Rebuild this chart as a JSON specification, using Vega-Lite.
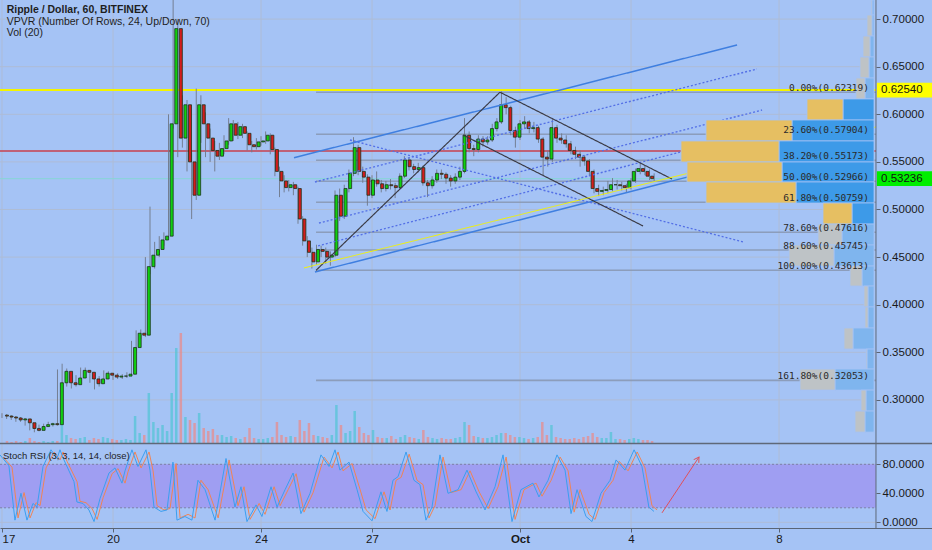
{
"$schema": "https://vega.github.io/schema/vega-lite/v6.json",
"autosize": {"type": "none"},
"width": 932, "height": 528,
"padding": {"left": 0, "top": 0, "right": 0, "bottom": 22},
"background": "#a5c3f5",
"config": {"view": {"stroke": null}, "text": {"font": "Liberation Sans"}},
"resolve": {"scale": {"x": "independent", "y": "independent", "color": "independent", "strokeDash": "independent", "strokeWidth": "independent"}},
"datasets": {
"candles": [
{"t":0,"o":0.284,"h":0.286,"l":0.281,"c":0.283,"v":2},{"t":3,"o":0.283,"h":0.285,"l":0.280,"c":0.282,"v":1},{"t":6,"o":0.282,"h":0.284,"l":0.279,"c":0.281,"v":2},{"t":9,"o":0.281,"h":0.283,"l":0.277,"c":0.279,"v":1},{"t":12,"o":0.279,"h":0.282,"l":0.277,"c":0.280,"v":2},{"t":15,"o":0.280,"h":0.281,"l":0.273,"c":0.276,"v":5},{"t":18,"o":0.276,"h":0.277,"l":0.268,"c":0.270,"v":2},{"t":21,"o":0.270,"h":0.272,"l":0.266,"c":0.268,"v":1},{"t":24,"o":0.268,"h":0.274,"l":0.267,"c":0.272,"v":2},{"t":27,"o":0.272,"h":0.275,"l":0.270,"c":0.274,"v":1},{"t":30,"o":0.274,"h":0.277,"l":0.272,"c":0.275,"v":2},{"t":33,"o":0.275,"h":0.276,"l":0.272,"c":0.274,"v":2},
{"t":36,"o":0.274,"h":0.332,"l":0.273,"c":0.318,"v":20},{"t":39,"o":0.318,"h":0.338,"l":0.315,"c":0.330,"v":8},{"t":42,"o":0.330,"h":0.333,"l":0.314,"c":0.318,"v":5},{"t":45,"o":0.318,"h":0.322,"l":0.312,"c":0.316,"v":4},{"t":48,"o":0.316,"h":0.326,"l":0.314,"c":0.323,"v":5},{"t":51,"o":0.323,"h":0.334,"l":0.321,"c":0.331,"v":6},{"t":54,"o":0.331,"h":0.334,"l":0.326,"c":0.329,"v":3},{"t":57,"o":0.329,"h":0.331,"l":0.318,"c":0.322,"v":5},{"t":60,"o":0.322,"h":0.324,"l":0.311,"c":0.317,"v":4},{"t":63,"o":0.317,"h":0.325,"l":0.314,"c":0.322,"v":6},{"t":66,"o":0.322,"h":0.331,"l":0.320,"c":0.328,"v":5},{"t":69,"o":0.328,"h":0.330,"l":0.323,"c":0.326,"v":4},{"t":72,"o":0.326,"h":0.328,"l":0.321,"c":0.324,"v":3},{"t":75,"o":0.324,"h":0.328,"l":0.322,"c":0.325,"v":3},{"t":78,"o":0.325,"h":0.327,"l":0.322,"c":0.325,"v":4},{"t":81,"o":0.325,"h":0.329,"l":0.323,"c":0.327,"v":3},
{"t":84,"o":0.327,"h":0.362,"l":0.326,"c":0.355,"v":27},{"t":87,"o":0.355,"h":0.373,"l":0.352,"c":0.370,"v":10},{"t":90,"o":0.370,"h":0.374,"l":0.364,"c":0.368,"v":8},{"t":93,"o":0.368,"h":0.450,"l":0.366,"c":0.440,"v":50},{"t":96,"o":0.440,"h":0.503,"l":0.432,"c":0.452,"v":21},{"t":99,"o":0.452,"h":0.466,"l":0.438,"c":0.458,"v":15},{"t":102,"o":0.458,"h":0.472,"l":0.450,"c":0.468,"v":18},{"t":105,"o":0.468,"h":0.476,"l":0.462,"c":0.472,"v":12},{"t":108,"o":0.472,"h":0.600,"l":0.470,"c":0.590,"v":50},{"t":111,"o":0.590,"h":0.724,"l":0.585,"c":0.690,"v":95},{"t":114,"o":0.690,"h":0.700,"l":0.555,"c":0.575,"v":110},{"t":117,"o":0.575,"h":0.620,"l":0.565,"c":0.610,"v":26},
{"t":120,"o":0.610,"h":0.615,"l":0.540,"c":0.550,"v":23},{"t":123,"o":0.550,"h":0.560,"l":0.490,"c":0.515,"v":20},{"t":126,"o":0.515,"h":0.627,"l":0.510,"c":0.610,"v":30},{"t":129,"o":0.610,"h":0.620,"l":0.570,"c":0.590,"v":15},{"t":132,"o":0.590,"h":0.602,"l":0.555,"c":0.575,"v":12},{"t":135,"o":0.575,"h":0.585,"l":0.550,"c":0.562,"v":14},{"t":138,"o":0.562,"h":0.572,"l":0.540,"c":0.556,"v":8},{"t":141,"o":0.556,"h":0.570,"l":0.552,"c":0.564,"v":8},{"t":144,"o":0.564,"h":0.578,"l":0.558,"c":0.572,"v":6},{"t":147,"o":0.572,"h":0.596,"l":0.568,"c":0.590,"v":7},{"t":150,"o":0.590,"h":0.594,"l":0.572,"c":0.578,"v":5},{"t":153,"o":0.578,"h":0.592,"l":0.574,"c":0.587,"v":4},
{"t":156,"o":0.587,"h":0.590,"l":0.575,"c":0.580,"v":6},{"t":159,"o":0.580,"h":0.582,"l":0.562,"c":0.568,"v":15},{"t":162,"o":0.568,"h":0.572,"l":0.560,"c":0.566,"v":5},{"t":165,"o":0.566,"h":0.575,"l":0.563,"c":0.571,"v":4},{"t":168,"o":0.571,"h":0.577,"l":0.567,"c":0.572,"v":4},{"t":171,"o":0.572,"h":0.582,"l":0.569,"c":0.578,"v":5},{"t":174,"o":0.578,"h":0.580,"l":0.558,"c":0.563,"v":6},{"t":177,"o":0.563,"h":0.565,"l":0.535,"c":0.540,"v":21},{"t":180,"o":0.540,"h":0.545,"l":0.513,"c":0.530,"v":8},{"t":183,"o":0.530,"h":0.536,"l":0.518,"c":0.523,"v":6},{"t":186,"o":0.523,"h":0.531,"l":0.519,"c":0.526,"v":7},{"t":189,"o":0.526,"h":0.529,"l":0.515,"c":0.522,"v":6},
{"t":192,"o":0.522,"h":0.524,"l":0.485,"c":0.490,"v":23},{"t":195,"o":0.490,"h":0.493,"l":0.462,"c":0.467,"v":12},{"t":198,"o":0.467,"h":0.472,"l":0.450,"c":0.455,"v":20},{"t":201,"o":0.455,"h":0.460,"l":0.438,"c":0.445,"v":8},{"t":204,"o":0.445,"h":0.463,"l":0.442,"c":0.458,"v":7},{"t":207,"o":0.458,"h":0.462,"l":0.450,"c":0.456,"v":6},{"t":210,"o":0.456,"h":0.460,"l":0.443,"c":0.450,"v":5},{"t":213,"o":0.450,"h":0.456,"l":0.441,"c":0.452,"v":8},{"t":216,"o":0.452,"h":0.520,"l":0.450,"c":0.515,"v":38},{"t":219,"o":0.515,"h":0.522,"l":0.488,"c":0.493,"v":18},{"t":222,"o":0.493,"h":0.526,"l":0.490,"c":0.522,"v":10},{"t":225,"o":0.522,"h":0.542,"l":0.518,"c":0.538,"v":12},
{"t":228,"o":0.538,"h":0.576,"l":0.535,"c":0.565,"v":32},{"t":231,"o":0.565,"h":0.568,"l":0.536,"c":0.540,"v":16},{"t":234,"o":0.540,"h":0.545,"l":0.528,"c":0.534,"v":10},{"t":237,"o":0.534,"h":0.537,"l":0.504,"c":0.515,"v":8},{"t":240,"o":0.515,"h":0.536,"l":0.512,"c":0.531,"v":13},{"t":243,"o":0.531,"h":0.540,"l":0.524,"c":0.527,"v":6},{"t":246,"o":0.527,"h":0.531,"l":0.518,"c":0.522,"v":5},{"t":249,"o":0.522,"h":0.530,"l":0.519,"c":0.526,"v":5},{"t":252,"o":0.526,"h":0.532,"l":0.521,"c":0.525,"v":7},{"t":255,"o":0.525,"h":0.528,"l":0.512,"c":0.523,"v":4},{"t":258,"o":0.523,"h":0.538,"l":0.521,"c":0.535,"v":6},{"t":261,"o":0.535,"h":0.556,"l":0.533,"c":0.552,"v":8},
{"t":264,"o":0.552,"h":0.555,"l":0.541,"c":0.545,"v":6},{"t":267,"o":0.545,"h":0.548,"l":0.538,"c":0.542,"v":5},{"t":270,"o":0.542,"h":0.549,"l":0.539,"c":0.544,"v":4},{"t":273,"o":0.544,"h":0.546,"l":0.525,"c":0.528,"v":13},{"t":276,"o":0.528,"h":0.531,"l":0.513,"c":0.525,"v":6},{"t":279,"o":0.525,"h":0.535,"l":0.522,"c":0.531,"v":5},{"t":282,"o":0.531,"h":0.542,"l":0.528,"c":0.538,"v":4},{"t":285,"o":0.538,"h":0.542,"l":0.532,"c":0.537,"v":5},{"t":288,"o":0.537,"h":0.539,"l":0.527,"c":0.533,"v":4},{"t":291,"o":0.533,"h":0.536,"l":0.524,"c":0.530,"v":4},{"t":294,"o":0.530,"h":0.538,"l":0.527,"c":0.534,"v":5},{"t":297,"o":0.534,"h":0.545,"l":0.531,"c":0.540,"v":6},
{"t":300,"o":0.540,"h":0.596,"l":0.538,"c":0.578,"v":21},{"t":303,"o":0.578,"h":0.582,"l":0.560,"c":0.564,"v":18},{"t":306,"o":0.564,"h":0.568,"l":0.556,"c":0.563,"v":7},{"t":309,"o":0.563,"h":0.578,"l":0.560,"c":0.574,"v":6},{"t":312,"o":0.574,"h":0.577,"l":0.566,"c":0.571,"v":5},{"t":315,"o":0.571,"h":0.577,"l":0.568,"c":0.573,"v":5},{"t":318,"o":0.573,"h":0.590,"l":0.571,"c":0.585,"v":6},{"t":321,"o":0.585,"h":0.596,"l":0.582,"c":0.592,"v":8},{"t":324,"o":0.592,"h":0.624,"l":0.590,"c":0.610,"v":10},{"t":327,"o":0.610,"h":0.618,"l":0.600,"c":0.607,"v":10},{"t":330,"o":0.607,"h":0.609,"l":0.578,"c":0.583,"v":8},{"t":333,"o":0.583,"h":0.587,"l":0.565,"c":0.576,"v":6},
{"t":336,"o":0.576,"h":0.594,"l":0.573,"c":0.590,"v":6},{"t":339,"o":0.590,"h":0.598,"l":0.585,"c":0.592,"v":5},{"t":342,"o":0.592,"h":0.594,"l":0.580,"c":0.585,"v":4},{"t":345,"o":0.585,"h":0.592,"l":0.581,"c":0.586,"v":5},{"t":348,"o":0.586,"h":0.588,"l":0.570,"c":0.574,"v":6},{"t":351,"o":0.574,"h":0.576,"l":0.535,"c":0.555,"v":21},{"t":354,"o":0.555,"h":0.562,"l":0.545,"c":0.553,"v":8},{"t":357,"o":0.553,"h":0.595,"l":0.550,"c":0.586,"v":18},{"t":360,"o":0.586,"h":0.589,"l":0.570,"c":0.575,"v":6},{"t":363,"o":0.575,"h":0.580,"l":0.569,"c":0.573,"v":5},{"t":366,"o":0.573,"h":0.578,"l":0.565,"c":0.569,"v":4},{"t":369,"o":0.569,"h":0.572,"l":0.558,"c":0.562,"v":4},
{"t":372,"o":0.562,"h":0.566,"l":0.553,"c":0.558,"v":5},{"t":375,"o":0.558,"h":0.562,"l":0.545,"c":0.555,"v":4},{"t":378,"o":0.555,"h":0.557,"l":0.546,"c":0.551,"v":6},{"t":381,"o":0.551,"h":0.553,"l":0.535,"c":0.540,"v":7},{"t":384,"o":0.540,"h":0.542,"l":0.517,"c":0.522,"v":10},{"t":387,"o":0.522,"h":0.526,"l":0.514,"c":0.519,"v":6},{"t":390,"o":0.519,"h":0.524,"l":0.515,"c":0.520,"v":5},{"t":393,"o":0.520,"h":0.530,"l":0.517,"c":0.521,"v":5},{"t":396,"o":0.521,"h":0.533,"l":0.519,"c":0.526,"v":11},{"t":399,"o":0.526,"h":0.531,"l":0.521,"c":0.526,"v":4},{"t":402,"o":0.526,"h":0.529,"l":0.520,"c":0.525,"v":4},{"t":405,"o":0.525,"h":0.527,"l":0.518,"c":0.523,"v":3},
{"t":408,"o":0.523,"h":0.533,"l":0.521,"c":0.530,"v":4},{"t":411,"o":0.530,"h":0.543,"l":0.528,"c":0.540,"v":5},{"t":414,"o":0.540,"h":0.548,"l":0.537,"c":0.543,"v":4},{"t":417,"o":0.543,"h":0.546,"l":0.536,"c":0.540,"v":3},{"t":420,"o":0.540,"h":0.542,"l":0.531,"c":0.535,"v":3},{"t":423,"o":0.535,"h":0.538,"l":0.530,"c":0.5324,"v":2}
],
"stk": [
{"t":-1.3,"v":93},{"t":4.5,"v":78},{"t":8.4,"v":3},{"t":12.3,"v":40},{"t":16.2,"v":3},{"t":20.1,"v":26},{"t":22.7,"v":21},{"t":26.6,"v":77},{"t":31.8,"v":100},{"t":35.7,"v":88},{"t":37.6,"v":100},{"t":40.2,"v":86},{"t":46.7,"v":56},{"t":48.6,"v":28},{"t":52.5,"v":26},{"t":56.4,"v":17},{"t":59.7,"v":1},{"t":63.6,"v":33},{"t":69.4,"v":68},{"t":73.3,"v":75},{"t":77.8,"v":54},{"t":79.8,"v":71},{"t":84.3,"v":100},{"t":88.2,"v":77},{"t":93.4,"v":100},{"t":96,"v":72},{"t":98.6,"v":21},{"t":103.1,"v":15},{"t":107,"v":17},{"t":110.9,"v":83},{"t":113.5,"v":3},{"t":118.7,"v":8},{"t":123.2,"v":3},{"t":127.1,"v":58},{"t":131.7,"v":45},{"t":138.2,"v":3},{"t":145.3,"v":88},{"t":151.1,"v":21},{"t":155,"v":49},{"t":158.9,"v":1},{"t":164.8,"v":24},{"t":168.6,"v":8},{"t":174.5,"v":49},{"t":178.4,"v":21},{"t":183.6,"v":45},{"t":188.8,"v":68},{"t":193.9,"v":12},{"t":199.8,"v":40},{"t":206.9,"v":93},{"t":212.1,"v":77},{"t":216,"v":100},{"t":219.2,"v":72},{"t":225.1,"v":83},{"t":230.3,"v":45},{"t":234.2,"v":15},{"t":240,"v":2},{"t":245.8,"v":42},{"t":249.7,"v":15},{"t":253.6,"v":58},{"t":256.9,"v":63},{"t":262.1,"v":97},{"t":267.2,"v":58},{"t":271.1,"v":52},{"t":275,"v":3},{"t":278.9,"v":21},{"t":284.1,"v":93},{"t":289.3,"v":40},{"t":295.8,"v":45},{"t":301.6,"v":72},{"t":307.5,"v":42},{"t":313.3,"v":17},{"t":319.8,"v":49},{"t":325,"v":93},{"t":330.8,"v":1},{"t":336.6,"v":45},{"t":344.4,"v":54},{"t":348.3,"v":35},{"t":354.2,"v":58},{"t":360,"v":93},{"t":365.2,"v":72},{"t":369.1,"v":12},{"t":373,"v":45},{"t":378.8,"v":8},{"t":382.7,"v":1},{"t":388.5,"v":40},{"t":394.4,"v":58},{"t":398.3,"v":86},{"t":404.1,"v":72},{"t":410,"v":100},{"t":415.1,"v":77},{"t":419.6,"v":21},{"t":422.9,"v":15}
],
"std": [
{"t":0.7,"v":90},{"t":6.5,"v":76},{"t":10.4,"v":6},{"t":14.3,"v":41},{"t":18.2,"v":6},{"t":22.1,"v":27},{"t":24.7,"v":23},{"t":28.6,"v":75},{"t":33.8,"v":97},{"t":37.7,"v":86},{"t":39.6,"v":97},{"t":42.2,"v":84},{"t":48.7,"v":56},{"t":50.6,"v":29},{"t":54.5,"v":27},{"t":58.4,"v":19},{"t":61.7,"v":4},{"t":65.6,"v":34},{"t":71.4,"v":67},{"t":75.3,"v":74},{"t":79.8,"v":54},{"t":81.8,"v":70},{"t":86.3,"v":97},{"t":90.2,"v":75},{"t":95.4,"v":97},{"t":98,"v":71},{"t":100.6,"v":23},{"t":105.1,"v":17},{"t":109,"v":19},{"t":112.9,"v":81},{"t":115.5,"v":6},{"t":120.7,"v":11},{"t":125.2,"v":6},{"t":129.1,"v":58},{"t":133.7,"v":45},{"t":140.2,"v":6},{"t":147.3,"v":86},{"t":153.1,"v":23},{"t":157,"v":49},{"t":160.9,"v":4},{"t":166.8,"v":26},{"t":170.6,"v":11},{"t":176.5,"v":49},{"t":180.4,"v":23},{"t":185.6,"v":45},{"t":190.8,"v":67},{"t":195.9,"v":14},{"t":201.8,"v":41},{"t":208.9,"v":90},{"t":214.1,"v":75},{"t":218,"v":97},{"t":221.2,"v":71},{"t":227.1,"v":81},{"t":232.3,"v":45},{"t":236.2,"v":17},{"t":242,"v":5},{"t":247.8,"v":42},{"t":251.7,"v":17},{"t":255.6,"v":58},{"t":258.9,"v":62},{"t":264.1,"v":94},{"t":269.2,"v":58},{"t":273.1,"v":52},{"t":277,"v":6},{"t":280.9,"v":23},{"t":286.1,"v":90},{"t":291.3,"v":41},{"t":297.8,"v":45},{"t":303.6,"v":71},{"t":309.5,"v":42},{"t":315.3,"v":19},{"t":321.8,"v":49},{"t":327,"v":90},{"t":332.8,"v":4},{"t":338.6,"v":45},{"t":346.4,"v":54},{"t":350.3,"v":36},{"t":356.2,"v":58},{"t":362,"v":90},{"t":367.2,"v":71},{"t":371.1,"v":14},{"t":375,"v":45},{"t":380.8,"v":11},{"t":384.7,"v":4},{"t":390.5,"v":41},{"t":396.4,"v":58},{"t":400.3,"v":84},{"t":406.1,"v":71},{"t":412,"v":97},{"t":417.1,"v":75},{"t":421.6,"v":23},{"t":424.9,"v":17}
],
"vp": [
{"lo":0.7043,"hi":0.7201,"a":1,"b":3,"k":"up"},{"lo":0.7043,"hi":0.7201,"a":3,"b":4,"k":"dn"},
{"lo":0.6822,"hi":0.7043,"a":1,"b":3,"k":"up"},{"lo":0.6822,"hi":0.7043,"a":3,"b":8,"k":"dn"},
{"lo":0.6602,"hi":0.6822,"a":1,"b":5,"k":"up"},{"lo":0.6602,"hi":0.6822,"a":5,"b":12,"k":"dn"},
{"lo":0.6381,"hi":0.6602,"a":1,"b":6,"k":"up"},{"lo":0.6381,"hi":0.6602,"a":6,"b":15,"k":"dn"},
{"lo":0.6161,"hi":0.6381,"a":1,"b":10,"k":"up"},{"lo":0.6161,"hi":0.6381,"a":10,"b":19,"k":"dn"},
{"lo":0.594,"hi":0.6161,"a":1,"b":32,"k":"upv"},{"lo":0.594,"hi":0.6161,"a":32,"b":68,"k":"dnv"},
{"lo":0.572,"hi":0.594,"a":1,"b":83,"k":"upv"},{"lo":0.572,"hi":0.594,"a":83,"b":169,"k":"dnv"},
{"lo":0.5499,"hi":0.572,"a":1,"b":96,"k":"upv"},{"lo":0.5499,"hi":0.572,"a":96,"b":194,"k":"dnv"},
{"lo":0.5289,"hi":0.5499,"a":1,"b":93,"k":"upv"},{"lo":0.5289,"hi":0.5499,"a":93,"b":188,"k":"dnv"},
{"lo":0.5068,"hi":0.5289,"a":1,"b":79,"k":"upv"},{"lo":0.5068,"hi":0.5289,"a":79,"b":169,"k":"dnv"},
{"lo":0.4847,"hi":0.5068,"a":1,"b":23,"k":"upv"},{"lo":0.4847,"hi":0.5068,"a":23,"b":52,"k":"dnv"},
{"lo":0.4627,"hi":0.4847,"a":1,"b":33,"k":"up"},{"lo":0.4627,"hi":0.4847,"a":33,"b":57,"k":"dn"},
{"lo":0.4406,"hi":0.4627,"a":1,"b":41,"k":"up"},{"lo":0.4406,"hi":0.4627,"a":41,"b":86,"k":"dn"},
{"lo":0.4196,"hi":0.4406,"a":1,"b":13,"k":"up"},{"lo":0.4196,"hi":0.4406,"a":13,"b":25,"k":"dn"},
{"lo":0.3976,"hi":0.4196,"a":1,"b":7,"k":"up"},{"lo":0.3976,"hi":0.4196,"a":7,"b":11,"k":"dn"},
{"lo":0.3755,"hi":0.3976,"a":1,"b":7,"k":"up"},{"lo":0.3755,"hi":0.3976,"a":7,"b":10,"k":"dn"},
{"lo":0.3534,"hi":0.3755,"a":1,"b":22,"k":"up"},{"lo":0.3534,"hi":0.3755,"a":22,"b":31,"k":"dn"},
{"lo":0.3324,"hi":0.3534,"a":1,"b":8,"k":"up"},{"lo":0.3324,"hi":0.3534,"a":8,"b":9,"k":"dn"},
{"lo":0.3103,"hi":0.3324,"a":1,"b":40,"k":"up"},{"lo":0.3103,"hi":0.3324,"a":40,"b":75,"k":"dn"},
{"lo":0.2883,"hi":0.3103,"a":1,"b":9,"k":"up"},{"lo":0.2883,"hi":0.3103,"a":9,"b":14,"k":"dn"},
{"lo":0.2662,"hi":0.2883,"a":1,"b":10,"k":"up"},{"lo":0.2662,"hi":0.2883,"a":10,"b":20,"k":"dn"}
],
"fib": [
{"p":0.62319,"label":"0.00%(0.62319)"},{"p":0.57904,"label":"23.60%(0.57904)"},{"p":0.55173,"label":"38.20%(0.55173)"},{"p":0.52966,"label":"50.00%(0.52966)"},{"p":0.50759,"label":"61.80%(0.50759)"},{"p":0.47616,"label":"78.60%(0.47616)"},{"p":0.45745,"label":"88.60%(0.45745)"},{"p":0.43613,"label":"100.00%(0.43613)"},{"p":0.32053,"label":"161.80%(0.32053)"}
],
"tl": [
{"id":"ch1","g":"blue","t":189.4,"p":0.5544},{"id":"ch1","g":"blue","t":476.8,"p":0.6728},
{"id":"ch2","g":"blue","t":203.0,"p":0.4343},{"id":"ch2","g":"blue","t":490.4,"p":0.5530},
{"id":"d1","g":"dot","t":203.0,"p":0.5289},{"id":"d1","g":"dot","t":489.7,"p":0.6476},
{"id":"d2","g":"dot","t":205.6,"p":0.4858},{"id":"d2","g":"dot","t":493.0,"p":0.6045},
{"id":"d3","g":"dot","t":205.0,"p":0.4617},{"id":"d3","g":"dot","t":490.4,"p":0.5814},
{"id":"d4","g":"dot","t":225.7,"p":0.5730},{"id":"d4","g":"dot","t":480.6,"p":0.4659},
{"id":"k1","g":"black","t":203.7,"p":0.43613},{"id":"k1","g":"black","t":323.0,"p":0.62319},
{"id":"k2","g":"black","t":323.0,"p":0.62319},{"id":"k2","g":"black","t":434.6,"p":0.532},
{"id":"k3","g":"black","t":299.0,"p":0.5783},{"id":"k3","g":"black","t":415.8,"p":0.4827},
{"id":"y1","g":"yellow","t":195.9,"p":0.4386},{"id":"y1","g":"yellow","t":566.9,"p":0.5867}
],
"hl": [{"p":0.5614,"k":"piv"},{"p":0.53236,"k":"last"},{"p":0.6254,"k":"res"}],
"tags": [{"lo":0.6177,"hi":0.6331,"p":0.6254,"label":"0.62540","k":"res"},{"lo":0.52466,"hi":0.54006,"p":0.53236,"label":"0.53236","k":"last"}],
"pg": [{"p":0.30},{"p":0.35},{"p":0.40},{"p":0.45},{"p":0.50},{"p":0.55},{"p":0.60},{"p":0.65},{"p":0.70}],
"vg": [{"t":0},{"t":72},{"t":168},{"t":240},{"t":336},{"t":408},{"t":504}]
},
"layer": [
{"data":{"name":"vg"},"mark":{"type":"rule","color":"#aebcd6","strokeWidth":1},
 "encoding":{"x":{"field":"t","type":"quantitative","scale":{"domain":[-1.297,603.24],"nice":false,"zero":false},
  "axis":{"orient":"bottom","values":[0,72,168,240,336,408,504],"labelExpr":"datum.value == 0 ? '17' : datum.value == 72 ? '20' : datum.value == 168 ? '24' : datum.value == 240 ? '27' : datum.value == 336 ? 'Oct' : datum.value == 408 ? '4' : '8'","grid":false,"domain":true,"domainColor":"#5a6474","ticks":true,"tickSize":4,"tickColor":"#5a6474","labelFont":"Liberation Sans","labelFontSize":11.5,"labelColor":"#1a1a1a","labelPadding":1,"labelFlush":false,"labelOverlap":false,"title":null,"zindex":1,"labelAlign":{"condition":{"test":"datum.value == 0","value":"left"},"value":"center"},"labelFontWeight":{"condition":{"test":"datum.value == 336","value":"bold"},"value":"normal"}}}}},
{"data":{"name":"pg"},"mark":{"type":"rule","color":"#aebcd6","strokeWidth":1},
 "encoding":{"y":{"field":"p","type":"quantitative","scale":{"domain":[0.25473,0.72006],"range":[443,0],"nice":false,"zero":false},
   "axis":{"orient":"right","offset":-56,"values":[0.3,0.35,0.4,0.45,0.5,0.55,0.6,0.65,0.7],"format":".5f","grid":false,"domain":false,"ticks":true,"tickSize":4,"tickColor":"#5a6474","labelFont":"Liberation Sans","labelFontSize":11.5,"labelColor":"#1a1a1a","labelPadding":2,"labelFlush":false,"labelOverlap":false,"title":null,"zindex":1}},
  "x":{"datum":-1.297,"type":"quantitative","scale":{"domain":[-1.297,603.24],"nice":false,"zero":false},"axis":null},"x2":{"datum":566.9}}},
{"data":{"values":[{"v":0},{"v":40},{"v":80}]},"mark":{"type":"rule","color":"#aebcd6","strokeWidth":1},
 "encoding":{"y":{"field":"v","type":"quantitative","scale":{"domain":[0,100],"range":[522.3,449.8],"nice":false,"zero":false},
   "axis":{"orient":"right","offset":-56,"values":[0,40,80],"format":".4f","grid":false,"domain":false,"ticks":true,"tickSize":4,"tickColor":"#5a6474","labelFont":"Liberation Sans","labelFontSize":11.5,"labelColor":"#1a1a1a","labelPadding":2,"labelFlush":false,"labelOverlap":false,"title":null,"zindex":1}},
  "x":{"datum":-1.297,"type":"quantitative","scale":{"domain":[-1.297,603.24],"nice":false,"zero":false},"axis":null},"x2":{"datum":566.9}}},
{"data":{"values":[{"lo":20,"hi":80}]},"mark":{"type":"rect","color":"#9f9ef2"},
 "encoding":{"y":{"field":"lo","type":"quantitative","scale":{"domain":[0,100],"range":[522.3,449.8],"nice":false,"zero":false},"axis":null},"y2":{"field":"hi"},
  "x":{"datum":-1.297,"type":"quantitative","scale":{"domain":[-1.297,603.24],"nice":false,"zero":false},"axis":null},"x2":{"datum":566.9}}},
{"data":{"values":[{"v":20},{"v":80}]},"mark":{"type":"rule","color":"#7c80a8","strokeDash":[2,2],"strokeWidth":1},
 "encoding":{"y":{"field":"v","type":"quantitative","scale":{"domain":[0,100],"range":[522.3,449.8],"nice":false,"zero":false},"axis":null},
  "x":{"datum":-1.297,"type":"quantitative","scale":{"domain":[-1.297,603.24],"nice":false,"zero":false},"axis":null},"x2":{"datum":566.9}}},
{"data":{"name":"candles"},"mark":{"type":"bar","width":2.5,"opacity":0.75},
 "encoding":{"x":{"field":"t","type":"quantitative","scale":{"domain":[-1.297,603.24],"nice":false,"zero":false},"axis":null},
  "y":{"field":"v","type":"quantitative","scale":{"domain":[0,443],"range":[443,0],"nice":false,"zero":false},"axis":null},
  "color":{"condition":{"test":"datum.c >= datum.o","value":"#56c4d6"},"value":"#e88c8c"}}},
{"data":{"name":"fib"},"mark":{"type":"rule","color":"#8796b0","strokeWidth":1.6,"opacity":0.85},
 "encoding":{"y":{"field":"p","type":"quantitative","scale":{"domain":[0.25473,0.72006],"range":[443,0],"nice":false,"zero":false},"axis":null},
  "x":{"datum":203.7,"type":"quantitative","scale":{"domain":[-1.297,603.24],"nice":false,"zero":false},"axis":null},"x2":{"datum":566.9}}},
{"data":{"name":"hl"},"mark":{"type":"rule"},
 "encoding":{"y":{"field":"p","type":"quantitative","scale":{"domain":[0.25473,0.72006],"range":[443,0],"nice":false,"zero":false},"axis":null},
  "x":{"datum":-1.297,"type":"quantitative","scale":{"domain":[-1.297,603.24],"nice":false,"zero":false},"axis":null},"x2":{"datum":566.9},
  "color":{"field":"k","type":"nominal","scale":{"domain":["res","piv","last"],"range":["#f4f400","#c8404e","#86d6d6"]},"legend":null},
  "strokeWidth":{"field":"k","type":"nominal","scale":{"domain":["res","piv","last"],"range":[2,1,1]},"legend":null}}},
{"data":{"name":"candles"},"mark":{"type":"rule","color":"#6f7888","strokeWidth":1,"opacity":0.9},
 "encoding":{"x":{"field":"t","type":"quantitative","scale":{"domain":[-1.297,603.24],"nice":false,"zero":false},"axis":null},
  "y":{"field":"l","type":"quantitative","scale":{"domain":[0.25473,0.72006],"range":[443,0],"nice":false,"zero":false},"axis":null},"y2":{"field":"h"}}},
{"data":{"name":"candles"},"mark":{"type":"bar","width":3,"stroke":"#1c331c","strokeWidth":0.8},
 "encoding":{"x":{"field":"t","type":"quantitative","scale":{"domain":[-1.297,603.24],"nice":false,"zero":false},"axis":null},
  "y":{"field":"o","type":"quantitative","scale":{"domain":[0.25473,0.72006],"range":[443,0],"nice":false,"zero":false},"axis":null},"y2":{"field":"c"},
  "color":{"condition":{"test":"datum.c >= datum.o","value":"#10d010"},"value":"#d41c1c"}}},
{"data":{"name":"tl"},"mark":{"type":"line","interpolate":"linear"},
 "encoding":{"x":{"field":"t","type":"quantitative","scale":{"domain":[-1.297,603.24],"nice":false,"zero":false},"axis":null},
  "y":{"field":"p","type":"quantitative","scale":{"domain":[0.25473,0.72006],"range":[443,0],"nice":false,"zero":false},"axis":null},
  "detail":{"field":"id"},
  "color":{"field":"g","type":"nominal","scale":{"domain":["blue","dot","black","yellow"],"range":["#3f7fe0","#5470e6","#3a3a44","#f4f400"]},"legend":null},
  "strokeDash":{"field":"g","type":"nominal","scale":{"domain":["blue","dot","black","yellow"],"range":[[1,0],[2,2],[1,0],[1,0]]},"legend":null},
  "strokeWidth":{"field":"g","type":"nominal","scale":{"domain":["blue","dot","black","yellow"],"range":[1.5,1,1,2.2]},"legend":null}}},
{"data":{"name":"vp"},"mark":{"type":"rect","stroke":"#a5c3f5","strokeWidth":0.8},
 "encoding":{"x":{"field":"a","type":"quantitative","scale":{"domain":[-57,875],"reverse":true,"nice":false,"zero":false},"axis":null},"x2":{"field":"b"},
  "y":{"field":"lo","type":"quantitative","scale":{"domain":[0.25473,0.72006],"range":[443,0],"nice":false,"zero":false},"axis":null},"y2":{"field":"hi"},
  "color":{"field":"k","type":"nominal","scale":{"domain":["up","dn","upv","dnv"],"range":["#7fb5ee","#bec3c6","#3d9ae8","#e6bf62"]},"legend":null}}},
{"data":{"name":"fib"},"mark":{"type":"text","align":"right","baseline":"alphabetic","dy":-1.5,"font":"DejaVu Sans Mono","fontSize":9.5,"color":"#2a2a2a"},
 "encoding":{"y":{"field":"p","type":"quantitative","scale":{"domain":[0.25473,0.72006],"range":[443,0],"nice":false,"zero":false},"axis":null},
  "x":{"datum":562.4,"type":"quantitative","scale":{"domain":[-1.297,603.24],"nice":false,"zero":false},"axis":null},"text":{"field":"label"}}},
{"data":{"name":"std"},"mark":{"type":"line","color":"#ef8457","strokeWidth":1},
 "encoding":{"x":{"field":"t","type":"quantitative","scale":{"domain":[-1.297,603.24],"nice":false,"zero":false},"axis":null},
  "y":{"field":"v","type":"quantitative","scale":{"domain":[0,100],"range":[522.3,449.8],"nice":false,"zero":false},"axis":null}}},
{"data":{"name":"stk"},"mark":{"type":"line","color":"#3b9ff0","strokeWidth":1},
 "encoding":{"x":{"field":"t","type":"quantitative","scale":{"domain":[-1.297,603.24],"nice":false,"zero":false},"axis":null},
  "y":{"field":"v","type":"quantitative","scale":{"domain":[0,100],"range":[522.3,449.8],"nice":false,"zero":false},"axis":null}}},
{"data":{"values":[{"t":428.1,"v":13},{"t":452.1,"v":90}]},"mark":{"type":"line","color":"#e0505a","strokeWidth":1},
 "encoding":{"x":{"field":"t","type":"quantitative","scale":{"domain":[-1.297,603.24],"nice":false,"zero":false},"axis":null},
  "y":{"field":"v","type":"quantitative","scale":{"domain":[0,100],"range":[522.3,449.8],"nice":false,"zero":false},"axis":null}}},
{"data":{"values":[{"t":452.1,"v":90}]},"mark":{"type":"point","shape":"M-0.6,1L0,0L0.6,1","filled":false,"size":100,"angle":33,"stroke":"#e0505a","strokeWidth":1,"opacity":1},
 "encoding":{"x":{"field":"t","type":"quantitative","scale":{"domain":[-1.297,603.24],"nice":false,"zero":false},"axis":null},
  "y":{"field":"v","type":"quantitative","scale":{"domain":[0,100],"range":[522.3,449.8],"nice":false,"zero":false},"axis":null}}},
{"data":{"values":[{"s":"Ripple / Dollar, 60, BITFINEX"}]},"mark":{"type":"text","align":"left","baseline":"alphabetic","font":"Liberation Sans","fontSize":10.5,"fontWeight":"bold","color":"#1e1e1e"},
 "encoding":{"x":{"datum":3.05,"type":"quantitative","scale":{"domain":[-1.297,603.24],"nice":false,"zero":false},"axis":null},
  "y":{"datum":0.7061,"type":"quantitative","scale":{"domain":[0.25473,0.72006],"range":[443,0],"nice":false,"zero":false},"axis":null},"text":{"field":"s"}}},
{"data":{"values":[{"s":"VPVR (Number Of Rows, 24, Up/Down, 70)","p":0.6938},{"s":"Vol (20)","p":0.6822}]},"mark":{"type":"text","align":"left","baseline":"alphabetic","font":"Liberation Sans","fontSize":10.5,"color":"#1e1e1e"},
 "encoding":{"x":{"datum":3.05,"type":"quantitative","scale":{"domain":[-1.297,603.24],"nice":false,"zero":false},"axis":null},
  "y":{"field":"p","type":"quantitative","scale":{"domain":[0.25473,0.72006],"range":[443,0],"nice":false,"zero":false},"axis":null},"text":{"field":"s"}}},
{"data":{"values":[{"s":"Stoch RSI (3, 3, 14, 14, close)"}]},"mark":{"type":"text","align":"left","baseline":"middle","font":"Liberation Sans","fontSize":9.5,"color":"#1e1e1e"},
 "encoding":{"x":{"datum":0.65,"type":"quantitative","scale":{"domain":[-1.297,603.24],"nice":false,"zero":false},"axis":null},
  "y":{"datum":91.4,"type":"quantitative","scale":{"domain":[0,100],"range":[522.3,449.8],"nice":false,"zero":false},"axis":null},"text":{"field":"s"}}},
{"data":{"values":[{"p":0.2542}]},"mark":{"type":"rule","color":"#5f6878","strokeWidth":1.5},
 "encoding":{"y":{"field":"p","type":"quantitative","scale":{"domain":[0.25473,0.72006],"range":[443,0],"nice":false,"zero":false},"axis":null}}},
{"data":{"values":[{"t":566.9}]},"mark":{"type":"rule","color":"#5f6878","strokeWidth":1},
 "encoding":{"x":{"field":"t","type":"quantitative","scale":{"domain":[-1.297,603.24],"nice":false,"zero":false},"axis":null}}},
{"data":{"name":"tags"},"mark":{"type":"rect"},
 "encoding":{"x":{"datum":567.5,"type":"quantitative","scale":{"domain":[-1.297,603.24],"nice":false,"zero":false},"axis":null},"x2":{"datum":603.24},
  "y":{"field":"lo","type":"quantitative","scale":{"domain":[0.25473,0.72006],"range":[443,0],"nice":false,"zero":false},"axis":null},"y2":{"field":"hi"},
  "color":{"field":"k","type":"nominal","scale":{"domain":["res","last"],"range":["#ffff00","#00ee00"]},"legend":null}}},
{"data":{"name":"tags"},"mark":{"type":"text","align":"left","baseline":"middle","font":"Liberation Sans","fontSize":11.5,"color":"#111111"},
 "encoding":{"x":{"datum":570.2,"type":"quantitative","scale":{"domain":[-1.297,603.24],"nice":false,"zero":false},"axis":null},
  "y":{"field":"p","type":"quantitative","scale":{"domain":[0.25473,0.72006],"range":[443,0],"nice":false,"zero":false},"axis":null},"text":{"field":"label"}}}
]
}
